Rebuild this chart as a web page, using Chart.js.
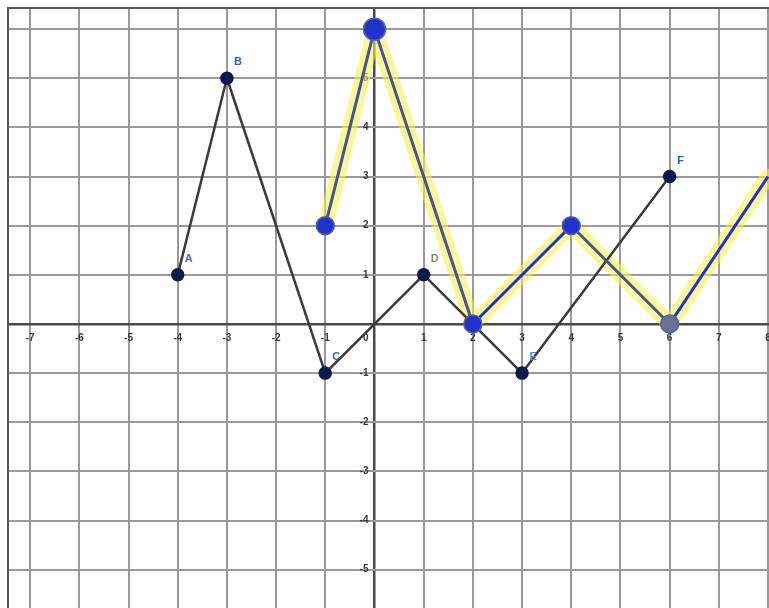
<!DOCTYPE html>
<html><head><meta charset="utf-8">
<script src="https://cdn.jsdelivr.net/npm/chart.js@4"></script>
<style>html,body{margin:0;padding:0;background:#fff;overflow:hidden}canvas{display:block;filter:blur(0.5px)}</style>
</head><body>
<canvas id="c" width="769" height="608"></canvas>
<script>
// Data
const blackX = [-4, -3, -1, 1, 3, 6];
const blackY = [1, 5, -1, 1, -1, 3];
const pointNames = ['A', 'B', 'C', 'D', 'E', 'F'];
const blueX = [-1, 0, 2, 4, 6, 8];
const blueY = [2, 6, 0, 2, 0, 3];
const xTicks = [-7, -6, -5, -4, -3, -2, -1, 1, 2, 3, 4, 5, 6, 7, 8];
const yTicks = [-5, -4, -3, -2, -1, 1, 2, 3, 4, 5, 6];
const originLabel = '0';

const blackPts = blackX.map((x, i) => ({x, y: blackY[i]}));
const bluePts = blueX.map((x, i) => ({x, y: blueY[i]}));
const nameColors = {A:'#4a6ac8', B:'#3a5ac8', C:'#3a5ac8', D:'#7f9060', E:'#5a8ad0', F:'#3a5aba'};

const tickLabelPlugin = {
  id: 'tickLabels',
  beforeDatasetsDraw(chart) {
    const {ctx, scales: {x, y}} = chart;
    const x0 = x.getPixelForValue(0), y0 = y.getPixelForValue(0);
    ctx.save();
    ctx.font = 'bold 10px "Liberation Sans", Arial, sans-serif';
    ctx.fillStyle = '#3a3a3a';
    ctx.textBaseline = 'middle';
    ctx.textAlign = 'center';
    xTicks.forEach(v => ctx.fillText(String(v), x.getPixelForValue(v), y0 + 14));
    ctx.textAlign = 'right';
    yTicks.forEach(v => ctx.fillText(String(v), x0 - 6, y.getPixelForValue(v)));
    ctx.fillText(originLabel, x0 - 6, y0 + 14);
    ctx.restore();
  }
};

const nameLabelPlugin = {
  id: 'nameLabels',
  afterDatasetsDraw(chart) {
    const {ctx, scales: {x, y}} = chart;
    ctx.save();
    ctx.font = 'bold 11px "Liberation Sans", Arial, sans-serif';
    ctx.textAlign = 'center';
    ctx.textBaseline = 'middle';
    blackPts.forEach((p, i) => {
      const n = pointNames[i];
      ctx.fillStyle = nameColors[n];
      ctx.fillText(n, x.getPixelForValue(p.x) + 11, y.getPixelForValue(p.y) - 16);
    });
    ctx.restore();
  }
};

const gridColor = c => (c.tick && c.tick.value === 0) ? '#4a4a4a' : '#9a9a9a';
const gridWidth = c => (c.tick && c.tick.value === 0) ? 2.5 : 2;

new Chart(document.getElementById('c'), {
  type: 'scatter',
  data: {
    datasets: [
      {
        label: 'highlight',
        data: bluePts,
        showLine: true,
        borderColor: 'rgba(248,242,70,0.58)',
        borderWidth: 15,
        borderJoinStyle: 'round',
        borderCapStyle: 'round',
        pointRadius: 0,
        order: 3
      },
      {
        label: 'black',
        data: blackPts,
        showLine: true,
        borderColor: '#3a3a3a',
        borderWidth: 2.5,
        borderJoinStyle: 'round',
        pointRadius: 5.5,
        pointBackgroundColor: '#0d1a4a',
        pointBorderColor: '#0d1a4a',
        order: 2
      },
      {
        label: 'blue',
        data: bluePts,
        showLine: true,
        borderColor: '#44539e',
        borderWidth: 3,
        borderJoinStyle: 'round',
        segment: {
          borderColor: c => (c.p0.parsed.x >= 2 && c.p1.parsed.y > c.p0.parsed.y) ? '#1a2ee0' : '#44539e'
        },
        pointRadius: c => (c.parsed && c.parsed.x >= 8) ? 0 : (c.parsed && c.parsed.y === 6 ? 11 : 9),
        pointBackgroundColor: c => (c.parsed && c.parsed.x === 6) ? '#6a7094' : '#2233cc',
        pointBorderColor: '#56639a',
        pointBorderWidth: 1.5,
        order: 1
      }
    ]
  },
  options: {
    responsive: false,
    animation: false,
    devicePixelRatio: 1,
    layout: {autoPadding: false, padding: {left: 8, top: 8, right: 0, bottom: 0}},
    plugins: {legend: {display: false}, tooltip: {enabled: false}},
    scales: {
      x: {
        type: 'linear', position: 'top', min: -7.45, max: 8.02,
        ticks: {display: false, stepSize: 1, includeBounds: false},
        grid: {drawTicks: false, color: gridColor, lineWidth: gridWidth},
        border: {display: true, color: '#555', width: 2}
      },
      y: {
        type: 'linear', position: 'left', min: -5.78, max: 6.43,
        ticks: {display: false, stepSize: 1, includeBounds: false},
        grid: {drawTicks: false, color: gridColor, lineWidth: gridWidth},
        border: {display: true, color: '#555', width: 2}
      }
    }
  },
  plugins: [tickLabelPlugin, nameLabelPlugin]
});
</script>
</body></html>
